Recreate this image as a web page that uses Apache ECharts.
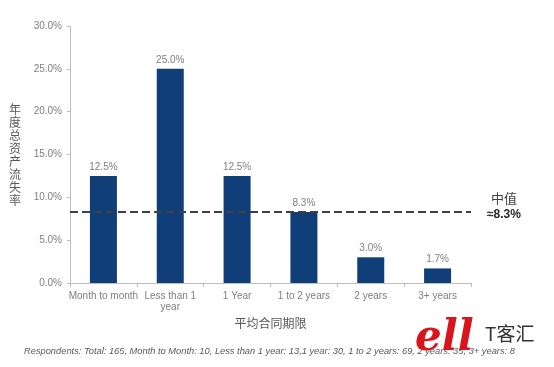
<!DOCTYPE html>
<html><head><meta charset="utf-8">
<script src="https://cdn.jsdelivr.net/npm/echarts@6/dist/echarts.min.js"></script>
<style>html,body{margin:0;padding:0;background:#fff}#c{width:554px;height:367px}</style>
</head><body><div id="c"></div>
<script>
const categories = ['Month to month', 'Less than 1\nyear', '1 Year', '1 to 2 years', '2 years', '3+ years'];
const values = [12.5, 25.0, 12.5, 8.3, 3.0, 1.7];
const medianValue = 8.3;
const yTicks = [0, 5, 10, 15, 20, 25, 30];
const footnote = 'Respondents: Total: 165, Month to Month: 10, Less than 1 year: 13,1 year: 30, 1 to 2 years: 69, 2 years: 35, 3+ years: 8';

const chart = echarts.init(document.getElementById('c'));
chart.setOption({
  animation: false,
  textStyle: { fontFamily: 'Liberation Sans, Arial, sans-serif' },
  title: {
    text: footnote, left: 19, top: 342,
    textStyle: { fontSize: 9.3, fontStyle: 'italic', fontWeight: 'normal', color: '#595959' }
  },
  graphic: [
    { type: 'text', left: 415, top: 318, z: 10,
      style: { text: 'ell', font: 'italic bold 42px "DejaVu Serif", serif', fill: '#d9141c' } },
    { type: 'text', left: 485, top: 324, z: 10,
      style: { text: 'T客汇', font: '19px "Noto Sans CJK SC", sans-serif', fill: '#333333' } }
  ],
  grid: { left: 70, right: 83, top: 26, bottom: 84 },
  xAxis: {
    type: 'category', data: categories,
    name: '平均合同期限', nameLocation: 'middle', nameGap: 33,
    nameTextStyle: { fontSize: 12, color: '#595959', fontFamily: 'Noto Sans CJK SC' },
    axisLine: { lineStyle: { color: '#bfbfbf' } },
    axisTick: { show: true, length: 4, lineStyle: { color: '#bfbfbf' } },
    axisLabel: { fontSize: 10, color: '#7f7f7f', margin: 8, lineHeight: 11, interval: 0 }
  },
  yAxis: {
    type: 'value', min: yTicks[0], max: yTicks[yTicks.length - 1], interval: 5,
    name: '年\n度\n总\n资\n产\n流\n失\n率', nameLocation: 'middle', nameRotate: 0, nameGap: 49,
    nameTextStyle: { fontSize: 12, color: '#595959', lineHeight: 13, fontFamily: 'Noto Sans CJK SC' },
    axisLine: { show: true, lineStyle: { color: '#bfbfbf' } },
    axisTick: { show: true, length: 3, lineStyle: { color: '#bfbfbf' } },
    splitLine: { show: false },
    axisLabel: { fontSize: 10, color: '#7f7f7f', margin: 8, formatter: v => v.toFixed(1) + '%' }
  },
  series: [{
    type: 'bar', data: values, barWidth: 27,
    itemStyle: { color: '#0f3e78' },
    label: { show: true, position: 'top', distance: 4, fontSize: 10, color: '#7f7f7f', formatter: p => p.value.toFixed(1) + '%' },
    markLine: {
      silent: true, symbol: 'none',
      lineStyle: { type: [8, 4], color: '#404040', width: 2 },
      label: {
        show: true, position: 'end', distance: 16,
        formatter: '{a|中值}\n{b|≈8.3%}',
        padding: [0, 0, 12, 0],
        rich: {
          a: { fontSize: 13, color: '#404040', fontFamily: 'Noto Sans CJK SC', lineHeight: 18, align: 'center' },
          b: { fontSize: 12, color: '#262626', fontWeight: 'bold', lineHeight: 16, align: 'center' }
        }
      },
      data: [{ yAxis: medianValue }]
    }
  }]
});
</script></body></html>
